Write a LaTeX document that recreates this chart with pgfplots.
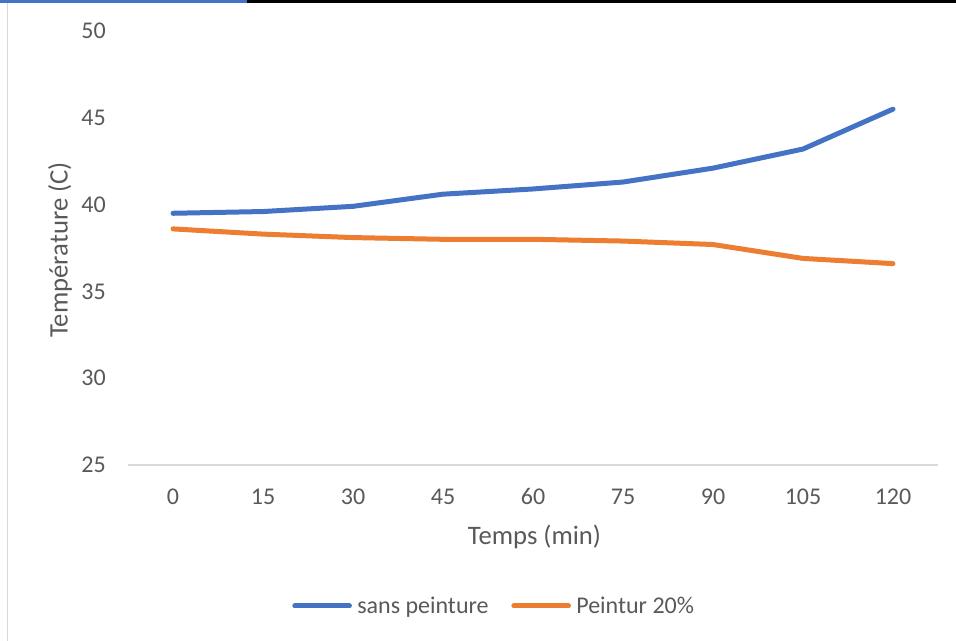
\documentclass[border=0pt]{standalone}
\usepackage{pgfplots}
\pgfplotsset{compat=1.18}
\usepackage{fontspec}
\setmainfont{Carlito}

\definecolor{serieA}{HTML}{4472C4}
\definecolor{serieB}{HTML}{ED7D31}
\definecolor{txt}{HTML}{595959}
\definecolor{axisgray}{HTML}{D9D9D9}

\pgfplotstableread{
t  sans  p20
0  39.5  38.6
1  39.6  38.3
2  39.9  38.1
3  40.6  38.0
4  40.9  38.0
5  41.3  37.9
6  42.1  37.7
7  43.2  36.9
8  45.5  36.6
}\mesures

\begin{document}
\begin{tikzpicture}[x=1pt,y=1pt]
  \path[use as bounding box] (0,0) rectangle (717,480.75);
  % page frame
  \fill[axisgray] (4.9,0) rectangle (6.1,480.75);
  \fill[black] (185,478.5) rectangle (717,480.75);
  \fill[serieA] (0,478.5) rectangle (185,480.75);

  \begin{axis}[
    at={(96pt,132pt)}, anchor=south west,
    scale only axis,
    width=607.5pt, height=325.5pt,
    xmin=-0.5, xmax=8.5,
    ymin=25, ymax=50,
    ytick={25,30,...,50},
    xtick={0,...,8},
    xticklabels={0,15,30,45,60,75,90,105,120},
    axis line style={draw=none},
    major tick length=0pt,
    tick style={draw=none},
    ticklabel style={font=\fontsize{18}{20}\selectfont, text=txt},
    /pgf/number format/assume math mode=true,
    yticklabel style={anchor=east, inner sep=0pt, xshift=-16.5pt},
    xticklabel style={anchor=base, inner sep=0pt, yshift=-30pt},
    clip=false,
    legend columns=2,
    legend style={
      at={(axis description cs:0,0)}, anchor=west,
      xshift=123pt, yshift=-105.75pt,
      draw=none, fill=none, inner sep=0pt,
      font=\fontsize{18}{20}\selectfont, text=txt,
      /tikz/every even column/.append style={column sep=17pt},
      nodes={inner sep=0pt, anchor=west},
    },
    legend cell align=left,
    legend image code/.code={
      \draw[#1, line width=3.75pt, line cap=round] (0pt,0pt) -- (41pt,0pt);
      \path (45pt,0pt);
    },
  ]
    \draw[axisgray, line width=1.1pt] (rel axis cs:0,0) -- (rel axis cs:1,0);
    \addplot[serieA, line width=3.75pt, line cap=round, line join=round]
      table[x=t, y=sans] {\mesures};
    \addlegendentry{sans peinture}
    \addplot[serieB, line width=3.75pt, line cap=round, line join=round]
      table[x=t, y=p20] {\mesures};
    \addlegendentry{Peintur 20\%}
  \end{axis}

  \node[rotate=90, text=txt, font=\fontsize{20}{22}\selectfont] at (45,293.25) {Température (C)};
  \node[text=txt, font=\fontsize{20}{22}\selectfont] at (400.9,78) {Temps (min)};
\end{tikzpicture}
\end{document}
